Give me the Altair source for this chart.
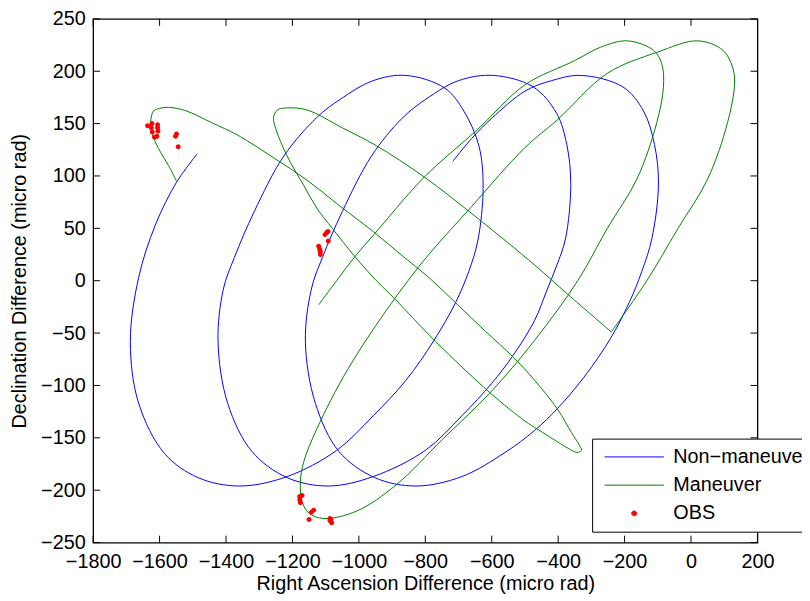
import altair as alt
import pandas as pd

FONT = "Liberation Sans, Arial, Helvetica, sans-serif"
NAMES = ["Non\u2212maneuver", "Maneuver", "OBS"]
COLORS = ["#0000ff", "#008000", "#ff0000"]

x_ticks = [-1800, -1600, -1400, -1200, -1000, -800, -600, -400, -200, 0, 200]
y_ticks = [-250, -200, -150, -100, -50, 0, 50, 100, 150, 200, 250]

blue_x = [-1487, -1549, -1613, -1663, -1688, -1663, -1585, -1484, -1360,
          -1216, -1067, -957, -858, -774, -709, -669, -642, -626,
          -638, -684, -742, -858, -957, -1057, -1126, -1226, -1315, -1375, -1408, -1424,
          -1395, -1322, -1216, -1092, -957, -800, -690, -600, -535, -471, -435, -405, -378, -362,
          -374, -405, -475, -595, -700, -795, -870, -962, -1050, -1110, -1143, -1161,
          -1131, -1060, -952, -828, -690, -560, -471, -402, -322, -242, -185, -148, -118, -98,
          -110, -143, -205, -331, -420, -500, -600, -660, -717]
blue_y = [121, 94, 53, 3, -58, -117, -165, -188, -196,
          -187, -162, -129, -95, -57, -21, 9, 38, 88,
          128, 162, 184, 196, 191, 173, 156, 119, 66, 22, -8, -58,
          -117, -163, -188, -196, -187, -162, -129, -98, -71, -38, -10, 14, 40, 92,
          130, 160, 185, 196, 191, 174, 155, 119, 66, 22, -8, -58,
          -117, -163, -188, -196, -187, -164, -143, -122, -92, -55, -20, 9, 40, 92,
          130, 162, 185, 196, 191, 181, 155, 136, 114]

green_x = [-1549, -1573, -1603, -1623, -1626, -1618, -1593, -1573, -1524, -1444, -1365, -1255,
           -1156, -1060, -957, -870, -789, -709, -620, -535, -471, -401, -360, -336, -330,
           -342, -370, -401, -461, -500, -605, -769, -893, -947, -1012, -1080, -1126, -1166,
           -1216, -1250, -1257, -1245, -1216, -1156, -1050, -948, -803, -640, -471, -371,
           -240, -240, -133, -39, 50, 110, 131, 125, 96, 21, -103, -252, -401, -500,
           -660, -828, -1017, -1117, -1166, -1176, -1171, -1150, -1106, -1007, -888, -750,
           -605, -471, -341, -252, -163, -103, -83, -88, -113, -192, -272, -351, -500, -644,
           -803, -952, -1012, -1067, -1121]
green_y = [95, 110, 126, 141, 154, 162, 165, 165.5, 162.6, 151, 139, 117,
           96, 72, 47, 24, 3, -21, -48, -73, -95, -123, -145, -157, -162,
           -164, -160, -154, -142, -134, -107, -58, -17, 0, 23, 50, 69, 91,
           119, 145, 156, 163, 165, 163, 146, 129, 99, 59, 15, -13,
           -49, -49, 0, 50, 97, 151, 188, 204, 220, 229, 218, 198, 154, 127,
           71, 10, -76, -135, -173, -192, -211, -222, -227, -220, -195, -152,
           -107, -57, 0, 50, 97, 151, 185, 207, 220, 229, 223, 210, 187, 144,
           99, 45, 23, 0, -23]

obs_x = [-1636, -1623, -1625, -1622, -1606, -1606, -1605, -1615, -1608, -1552, -1549, -1544,
         -1097, -1093, -1102, -1092, -1121, -1118, -1116, -1116,
         -1178, -1171, -1178, -1176, -1136, -1143, -1150, -1087, -1087, -1082, -1084]
obs_y = [148, 150, 146, 142, 149, 146, 143, 137, 138, 138, 140, 128,
         46, 47, 44, 38, 33, 30, 28, 25,
         -206, -205, -209, -212, -219, -221, -228, -227, -229, -231, -228]

LINE_PATH = "M-3,0H3"
DOT_PATH = "M-0.25,0A0.25,0.25 0 1,0 0.25,0A0.25,0.25 0 1,0 -0.25,0Z"

blue = pd.DataFrame({"x": blue_x, "y": blue_y, "series": NAMES[0], "i": range(len(blue_x))})
green = pd.DataFrame({"x": green_x, "y": green_y, "series": NAMES[1], "i": range(len(green_x))})
obs = pd.DataFrame({"x": obs_x, "y": obs_y, "series": NAMES[2]})
xt = pd.DataFrame({"x": x_ticks})
yt = pd.DataFrame({"y": y_ticks})

xs = alt.Scale(domain=[-1800, 200], nice=False, zero=False)
ys = alt.Scale(domain=[-250, 250], nice=False, zero=False)

XTITLE = "Right Ascension Difference (micro rad)"
YTITLE = "Declination Difference (micro rad)"

W, H = 671, 529

xaxis = alt.Axis(values=x_ticks, format="d", tickSize=0, domain=False, grid=False,
                 labelFontSize=20, labelFont=FONT, labelColor="black", labelPadding=9,
                 labelOverlap=False, labelFlush=False,
                 titleFontSize=20, titleFont=FONT,
                 titleFontWeight="normal", titleColor="black", titlePadding=2)
yaxis = alt.Axis(values=y_ticks, format="d", tickSize=0, domain=False, grid=False,
                 labelFontSize=20, labelFont=FONT, labelColor="black", labelPadding=8,
                 labelOverlap=False, labelFlush=False,
                 titleFontSize=20, titleFont=FONT,
                 titleFontWeight="normal", titleColor="black", titlePadding=11)

leg = alt.Legend(title=None, orient="none", legendX=504, legendY=424, fillColor="white",
                 strokeColor="black", padding=8, labelFontSize=20, labelFont=FONT,
                 labelColor="black", symbolSize=400, symbolStrokeWidth=1, symbolOffset=24,
                 labelOffset=29, rowPadding=7.5, symbolOpacity=1)

stroke_scale = alt.Scale(domain=NAMES, range=COLORS)

X = alt.X("x:Q", scale=xs, axis=xaxis, title=XTITLE)
Y = alt.Y("y:Q", scale=ys, axis=yaxis, title=YTITLE)


def line_layer(df):
    return alt.Chart(df).mark_line(strokeWidth=1, interpolate="catmull-rom", clip=True).encode(
        x=X, y=Y,
        stroke=alt.Stroke("series:N", scale=stroke_scale, legend=leg),
        order="i:Q",
    )


pts = alt.Chart(obs).mark_point(filled=True, size=400, opacity=1, strokeWidth=0).encode(
    x=X, y=Y,
    fill=alt.Fill("series:N", scale=alt.Scale(domain=NAMES, range=COLORS), legend=leg),
    shape=alt.Shape("series:N", scale=alt.Scale(domain=NAMES, range=[LINE_PATH, LINE_PATH, DOT_PATH]),
                    legend=leg),
)

tick_bottom = alt.Chart(xt).mark_rule(color="black", strokeWidth=1).encode(
    x=X, y=alt.value(H), y2=alt.value(H - 7))
tick_top = alt.Chart(xt).mark_rule(color="black", strokeWidth=1).encode(
    x=X, y=alt.value(0), y2=alt.value(7))
tick_left = alt.Chart(yt).mark_rule(color="black", strokeWidth=1).encode(
    y=Y, x=alt.value(0), x2=alt.value(7))
tick_right = alt.Chart(yt).mark_rule(color="black", strokeWidth=1).encode(
    y=Y, x=alt.value(W), x2=alt.value(W - 7))

chart = alt.layer(
    line_layer(blue), line_layer(green), pts, tick_bottom, tick_top, tick_left, tick_right
).properties(
    width=W, height=H,
    padding={"left": 86, "top": 8, "right": 45, "bottom": 50},
    autosize=alt.AutoSizeParams(type="none"),
).configure(font=FONT).configure_view(stroke="black", strokeWidth=1.3)

chart.save("out.html", embed_options={"renderer": "svg", "actions": False})
